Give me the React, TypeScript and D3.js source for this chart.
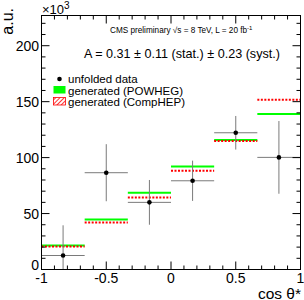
import React from "react";
import * as d3 from "d3";

const binEdges = [-1, -2 / 3, -1 / 3, 0, 1 / 3, 2 / 3, 1];
const dataValues = [12.5, 86.5, 60, 79.3, 122.2, 100.2];
const dataErrors = [27, 25.5, 20, 18, 15, 32.5];
const powhegValues = [21.5, 44.7, 68.5, 92.1, 115.7, 138.9];
const comphepValues = [20.6, 42, 64.4, 88.2, 114.8, 151.7];
const xTickLabels = [-1, -0.5, 0, 0.5, 1];
const yTickLabels = [0, 50, 100, 150, 200];

const W = 304;
const H = 300;
const L = 41.5, R = 300.5, T = 15.5, B = 269.5;
const FONT = "'Liberation Sans', Arial, Helvetica, sans-serif";

export default function App() {
  const x = d3.scaleLinear().domain([-1, 1]).range([L, R]);
  const y = d3.scaleLinear().domain([0, 227]).range([B, T]);

  const xMinor = d3.range(-10, 11).map((i) => i / 10);
  const yMinor = d3.range(0, 23).map((i) => i * 10);
  const bins = d3.range(dataValues.length);

  return (
    <svg width={W} height={H}
      style={{ position: "absolute", left: 0, top: 0, display: "block", fontFamily: FONT }}>
      <defs>
        <pattern id="hatch" patternUnits="userSpaceOnUse" width="3" height="3" patternTransform="rotate(45)">
          <rect width="3" height="3" fill="white" />
          <line x1="0" y1="0" x2="0" y2="3" stroke="#ff0000" strokeWidth="1.6" />
        </pattern>
      </defs>
      <rect x={0} y={0} width={W} height={H} fill="white" />

      {/* histograms */}
      {bins.map((i) => (
        <g key={"h" + i}>
          <line x1={x(binEdges[i])} x2={x(binEdges[i + 1])} y1={y(powhegValues[i])} y2={y(powhegValues[i])}
            stroke="#00ff00" strokeWidth={2} />
          <line x1={x(binEdges[i])} x2={x(binEdges[i + 1])} y1={y(comphepValues[i])} y2={y(comphepValues[i])}
            stroke="#ff0000" strokeWidth={2} strokeDasharray="2,1.5" />
        </g>
      ))}

      {/* data */}
      {bins.map((i) => {
        const cx = x((binEdges[i] + binEdges[i + 1]) / 2);
        const lo = Math.max(0, dataValues[i] - dataErrors[i]);
        return (
          <g key={"d" + i}>
            <line x1={x(binEdges[i])} x2={x(binEdges[i + 1])} y1={y(dataValues[i])} y2={y(dataValues[i])}
              stroke="#7a7a7a" strokeWidth={1} />
            <line x1={cx} x2={cx} y1={y(lo)} y2={y(dataValues[i] + dataErrors[i])}
              stroke="#7a7a7a" strokeWidth={1} />
            <circle cx={cx} cy={y(dataValues[i])} r={2.3} fill="black" />
          </g>
        );
      })}

      {/* frame */}
      <rect x={L} y={T} width={R - L} height={B - T} fill="none" stroke="black" strokeWidth={1} />

      {/* x ticks */}
      {xMinor.map((v, i) => {
        const major = Math.abs(v * 2 - Math.round(v * 2)) < 1e-6;
        const len = major ? 8 : 4;
        return (
          <g key={"xt" + i}>
            <line x1={x(v)} x2={x(v)} y1={B} y2={B - len} stroke="black" />
            <line x1={x(v)} x2={x(v)} y1={T} y2={T + len} stroke="black" />
          </g>
        );
      })}
      {/* y ticks */}
      {yMinor.map((v, i) => {
        const major = v % 50 === 0;
        const len = major ? 8 : 4;
        return (
          <g key={"yt" + i}>
            <line x1={L} x2={L + len} y1={y(v)} y2={y(v)} stroke="black" />
            <line x1={R} x2={R - len} y1={y(v)} y2={y(v)} stroke="black" />
          </g>
        );
      })}

      {xTickLabels.map((v) => (
        <text key={"xl" + v} x={x(v)} y={283} fontSize={14} textAnchor="middle">{v}</text>
      ))}
      {yTickLabels.map((v) => (
        <text key={"yl" + v} x={39} y={v === 0 ? y(v) + 0.5 : y(v) + 5} fontSize={14} textAnchor="end">{v}</text>
      ))}

      <text x={42} y={14} fontSize={13}>×10<tspan fontSize={10} dy={-5}>3</tspan></text>
      <text transform="translate(13,8) rotate(-90)" fontSize={16} textAnchor="end">a.u.</text>
      <text x={301} y={298.5} fontSize={15.5} textAnchor="end">cos θ*</text>

      <text x={110} y={33} fontSize={8.2}>
        CMS preliminary √s = 8 TeV, L = 20 fb<tspan fontSize={6} dy={-3}>-1</tspan>
      </text>
      <text x={84} y={58} fontSize={12.6}>A = 0.31 ± 0.11 (stat.) ± 0.23 (syst.)</text>

      {/* legend */}
      <circle cx={59.5} cy={79} r={2.3} fill="black" />
      <text x={68} y={83} fontSize={11.5}>unfolded data</text>
      <rect x={53.5} y={86} width={12} height={7.5} fill="#00ff00" />
      <text x={68} y={94.5} fontSize={11.5}>generated (POWHEG)</text>
      <rect x={53.5} y={97.5} width={12} height={7.5} fill="url(#hatch)" stroke="#ff0000" strokeWidth={0.8} />
      <text x={68} y={106} fontSize={11.5}>generated (CompHEP)</text>
    </svg>
  );
}
